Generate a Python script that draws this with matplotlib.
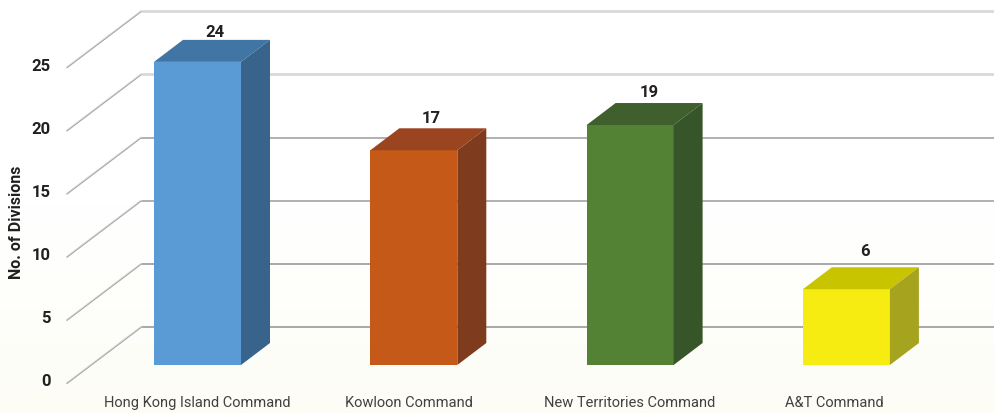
import numpy as np
import matplotlib
matplotlib.use("Agg")
import matplotlib.pyplot as plt
from matplotlib.colors import LinearSegmentedColormap
from matplotlib.patches import Polygon

commands = ["Hong Kong Island Command", "Kowloon Command", "New Territories Command", "A&T Command"]
divisions = [24, 17, 19, 6]
y_ticks = [0, 5, 10, 15, 20, 25]
front_colors = ["#5b9bd5", "#c55a18", "#548235", "#f7ec12"]
top_colors = ["#4175a3", "#9a4520", "#3f5f2c", "#c8c400"]
side_colors = ["#38638a", "#7e3b1e", "#365528", "#a6a31e"]
grid_colors = ["#a8a8a8", "#a8a8a8", "#b0b0b0", "#b0b0b0", "#d8d8d8", "#d8d8d8"]
label_shift = [0.0, -0.023, 0.0, -0.055]
value_dx = [17, 17.5, 19, 19]
value_dy = [7, 10, 11, 16]

W, H = 995, 413
PX_Y = 12.63    # pixels per division
PX_X = 216.3    # pixels per category
BASE_PX = 365   # pixel row of value 0 on the bar front
FIRST_PX = 197.5

plt.rcParams["font.family"] = ["Roboto", "DejaVu Sans"]

fig = plt.figure(figsize=(W / 100, H / 100), dpi=100)
ax = fig.add_axes([0, 0, 1, 1])
xlim = (-FIRST_PX / PX_X, (W - FIRST_PX) / PX_X)
ylim = ((BASE_PX - H) / PX_Y, BASE_PX / PX_Y)

# page background fades to cream at the bottom
cmap = LinearSegmentedColormap.from_list("bg", ["#ffffff", "#ffffff", "#fdfdf6"])
ax.imshow(np.linspace(0, 1, 200).reshape(-1, 1), cmap=cmap, aspect="auto",
          extent=[*xlim, *ylim], origin="upper", zorder=0)
ax.set_xlim(*xlim)
ax.set_ylim(*ylim)
ax.axis("off")

# depth offsets, in data units
wall_x, wall_dy = 141 / PX_X - FIRST_PX / PX_X, 38 / PX_Y
front_x, front_dy = 67 / PX_X - FIRST_PX / PX_X, -18 / PX_Y
right_x = xlim[1]
bar_w = 87 / PX_X
depth_x, depth_y = 29 / PX_X, 22 / PX_Y

for tick, col in zip(y_ticks, grid_colors):
    lw = 2.0 if tick >= 20 else 1.4
    ax.plot([wall_x, right_x], [tick + wall_dy] * 2, color=col, lw=lw, zorder=1, solid_capstyle="butt")
    ax.plot([front_x, wall_x], [tick + front_dy, tick + wall_dy], color="#d4d4d4", lw=1.2, zorder=1)
    ax.plot([front_x, wall_x], [tick + front_dy - 0.05, tick + wall_dy - 0.05], color="#999999", lw=0.5, zorder=1)
    ax.text(front_x - 16 / PX_X, tick + front_dy + 1 / PX_Y, str(tick), ha="right", va="center",
            fontsize=12, fontweight="bold", color="#231f20")

for i, val in enumerate(divisions):
    x0, x1 = i - bar_w / 2, i + bar_w / 2
    ax.add_patch(Polygon([(x0, 0), (x1, 0), (x1, val), (x0, val)], fc=front_colors[i], ec="none", zorder=3))
    ax.add_patch(Polygon([(x0, val), (x1, val), (x1 + depth_x, val + depth_y), (x0 + depth_x, val + depth_y)],
                         fc=top_colors[i], ec="none", zorder=3))
    ax.add_patch(Polygon([(x1, 0), (x1 + depth_x, depth_y), (x1 + depth_x, val + depth_y), (x1, val)],
                         fc=side_colors[i], ec="none", zorder=3))
    ax.text(i + value_dx[i] / PX_X, val + depth_y + value_dy[i] / PX_Y, str(val), ha="center", va="center",
            fontsize=12, fontweight="bold", color="#231f20", zorder=4)
    ax.text(i + label_shift[i], -38 / PX_Y, commands[i], ha="center", va="center",
            fontsize=10.5, color="#414042")

ax.text(front_x - 50 / PX_X, 143 / PX_Y, "No. of Divisions", rotation=90, ha="center", va="center",
        fontsize=11.5, fontweight="bold", color="#231f20")

fig.savefig("out.png", dpi=100)
